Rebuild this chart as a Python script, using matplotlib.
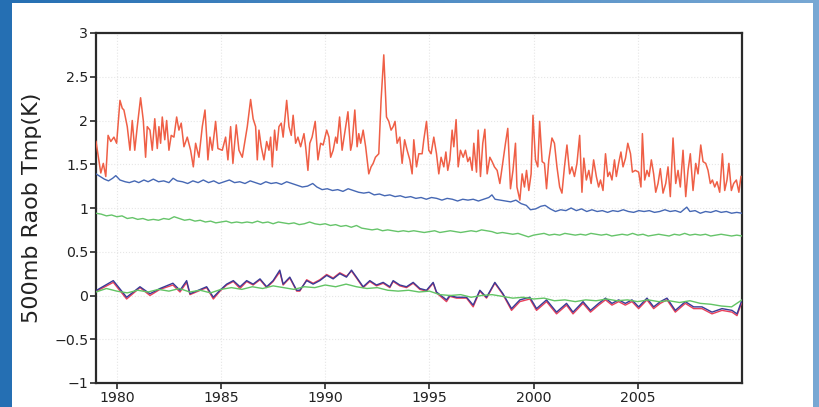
import matplotlib
matplotlib.use("Agg")
import matplotlib.pyplot as plt
import numpy as np
from matplotlib.patches import Rectangle

# ---------------- data ----------------
red_hi_year = [1979.00, 1979.23, 1979.35, 1979.47, 1979.58, 1979.71, 1979.86, 1979.99, 1980.15, 1980.26,
               1980.34, 1980.50, 1980.63, 1980.74, 1980.86, 1980.98, 1981.14, 1981.27, 1981.38, 1981.46,
               1981.59, 1981.70, 1981.82, 1981.94, 1982.02, 1982.10, 1982.18, 1982.30, 1982.39, 1982.50,
               1982.61, 1982.74, 1982.87, 1982.98, 1983.09, 1983.22, 1983.38, 1983.54, 1983.67, 1983.78,
               1983.94, 1984.10, 1984.23, 1984.32, 1984.37, 1984.47, 1984.58, 1984.74, 1984.85, 1985.06,
               1985.22, 1985.33, 1985.46, 1985.57, 1985.73, 1985.86, 1986.02, 1986.13, 1986.26, 1986.42,
               1986.54, 1986.66, 1986.74, 1986.82, 1986.93, 1987.06, 1987.19, 1987.30, 1987.38, 1987.46,
               1987.57, 1987.67, 1987.78, 1987.89, 1987.98, 1988.15, 1988.26, 1988.37, 1988.46, 1988.58,
               1988.69, 1988.82, 1988.98, 1989.06, 1989.17, 1989.26, 1989.37, 1989.52, 1989.65, 1989.78,
               1989.90, 1990.07, 1990.18, 1990.26, 1990.38, 1990.50, 1990.57, 1990.69, 1990.81, 1990.93,
               1991.09, 1991.22, 1991.29, 1991.42, 1991.53, 1991.61, 1991.70, 1991.82, 1991.94, 1992.09,
               1992.20, 1992.30, 1992.41, 1992.57, 1992.68, 1992.81, 1992.94, 1993.05, 1993.16, 1993.26,
               1993.35, 1993.45, 1993.58, 1993.69, 1993.81, 1993.93, 1994.06, 1994.17, 1994.25, 1994.38,
               1994.49, 1994.65, 1994.73, 1994.86, 1994.97, 1995.08, 1995.21, 1995.34, 1995.45, 1995.56,
               1995.69, 1995.79, 1995.88, 1995.98, 1996.09, 1996.17, 1996.28, 1996.38, 1996.49, 1996.62,
               1996.73, 1996.84, 1996.94, 1997.05, 1997.13, 1997.26, 1997.34, 1997.45, 1997.56, 1997.66,
               1997.77, 1997.90, 1998.01, 1998.12, 1998.25, 1998.38, 1998.49, 1998.65, 1998.76, 1998.89,
               1999.01, 1999.13, 1999.20, 1999.34, 1999.45, 1999.56, 1999.66, 1999.77, 1999.88, 1999.97,
               2000.09, 2000.20, 2000.29, 2000.41, 2000.52, 2000.62, 2000.73, 2000.88, 2001.00, 2001.12,
               2001.25, 2001.36, 2001.48, 2001.60, 2001.73, 2001.84, 2001.96, 2002.08, 2002.21, 2002.32,
               2002.41, 2002.53, 2002.65, 2002.76, 2002.88, 2003.01, 2003.12, 2003.21, 2003.33, 2003.45,
               2003.56, 2003.65, 2003.76, 2003.88, 2003.97, 2004.08, 2004.19, 2004.29, 2004.41, 2004.52,
               2004.65, 2004.74, 2004.88, 2005.04, 2005.15, 2005.22, 2005.33, 2005.44, 2005.54, 2005.65,
               2005.76, 2005.86, 2005.97, 2006.08, 2006.21, 2006.34, 2006.45, 2006.56, 2006.69, 2006.82,
               2006.93, 2007.04, 2007.17, 2007.30, 2007.41, 2007.52, 2007.65, 2007.78, 2007.89, 2008.02,
               2008.13, 2008.26, 2008.37, 2008.48, 2008.58, 2008.69, 2008.80, 2008.93, 2009.06, 2009.17,
               2009.28, 2009.37, 2009.49, 2009.60, 2009.73, 2009.85, 2009.95]
red_hi = [1.76, 1.40, 1.51, 1.36, 1.83, 1.76, 1.81, 1.74, 2.23, 2.14,
          2.12, 1.93, 1.66, 2.00, 1.66, 1.93, 2.26, 2.00, 1.58, 1.93,
          1.89, 1.66, 2.02, 1.68, 1.93, 1.74, 2.04, 1.78, 2.00, 1.66,
          1.83, 1.81, 2.04, 1.89, 1.97, 1.70, 1.81, 1.66, 1.47, 1.74,
          1.58, 1.93, 2.12, 1.78, 1.55, 1.81, 1.66, 1.99, 1.68, 1.66,
          1.81, 1.55, 1.93, 1.51, 1.95, 1.66, 1.58, 1.74, 1.93, 2.24,
          2.02, 1.93, 1.55, 1.89, 1.70, 1.55, 1.76, 1.66, 1.81, 1.47,
          1.89, 1.66, 1.93, 1.97, 1.81, 2.23, 1.93, 1.83, 2.06, 1.74,
          1.81, 1.70, 1.85, 1.70, 1.43, 1.74, 1.81, 1.99, 1.55, 1.74,
          1.72, 1.89, 1.81, 1.58, 1.66, 1.81, 1.74, 2.04, 1.66, 1.85,
          2.10, 1.66, 1.74, 2.12, 1.70, 1.85, 1.74, 1.89, 1.70, 1.39,
          1.47, 1.51, 1.58, 1.62, 2.23, 2.75, 2.04, 1.99, 1.89, 1.93,
          1.99, 1.74, 1.81, 1.51, 1.78, 1.66, 1.55, 1.39, 1.78, 1.47,
          1.62, 1.62, 1.78, 1.99, 1.66, 1.62, 1.81, 1.62, 1.39, 1.58,
          1.47, 1.64, 1.43, 1.55, 1.89, 1.70, 2.01, 1.47, 1.66, 1.58,
          1.66, 1.53, 1.58, 1.43, 1.74, 1.41, 1.89, 1.36, 1.74, 1.90,
          1.39, 1.58, 1.53, 1.47, 1.43, 1.28, 1.47, 1.74, 1.91, 1.22,
          1.43, 1.74, 1.24, 1.09, 1.39, 1.24, 1.43, 1.20, 1.39, 2.06,
          1.55, 1.47, 1.99, 1.53, 1.51, 1.22, 1.55, 1.80, 1.74, 1.47,
          1.24, 1.17, 1.47, 1.72, 1.39, 1.47, 1.36, 1.51, 1.83, 1.18,
          1.57, 1.32, 1.43, 1.28, 1.55, 1.36, 1.24, 1.32, 1.20, 1.62,
          1.36, 1.41, 1.32, 1.55, 1.36, 1.51, 1.64, 1.47, 1.57, 1.74,
          1.62, 1.41, 1.43, 1.41, 1.24, 1.85, 1.32, 1.43, 1.36, 1.55,
          1.39, 1.18, 1.28, 1.45, 1.17, 1.28, 1.47, 1.13, 1.80, 1.28,
          1.43, 1.24, 1.66, 1.13, 1.43, 1.62, 1.20, 1.51, 1.39, 1.72,
          1.53, 1.51, 1.43, 1.28, 1.32, 1.24, 1.30, 1.18, 1.62, 1.20,
          1.32, 1.51, 1.20, 1.28, 1.32, 1.18, 1.36]

blue_hi_year = [1979.00, 1979.20, 1979.40, 1979.60, 1979.80, 1979.95, 1980.15, 1980.40, 1980.60, 1980.85,
                1981.05, 1981.30, 1981.50, 1981.75, 1982.00, 1982.25, 1982.50, 1982.70, 1982.90, 1983.15,
                1983.40, 1983.65, 1983.90, 1984.15, 1984.40, 1984.65, 1984.90, 1985.15, 1985.40, 1985.65,
                1985.90, 1986.15, 1986.40, 1986.65, 1986.90, 1987.15, 1987.40, 1987.65, 1987.90, 1988.15,
                1988.40, 1988.65, 1988.90, 1989.15, 1989.40, 1989.60, 1989.85, 1990.10, 1990.35, 1990.60,
                1990.85, 1991.10, 1991.35, 1991.60, 1991.85, 1992.10, 1992.35, 1992.60, 1992.85, 1993.10,
                1993.35, 1993.60, 1993.85, 1994.10, 1994.35, 1994.60, 1994.85, 1995.10, 1995.35, 1995.60,
                1995.85, 1996.10, 1996.35, 1996.60, 1996.85, 1997.10, 1997.35, 1997.60, 1997.85, 1998.00,
                1998.15, 1998.40, 1998.65, 1998.90, 1999.15, 1999.40, 1999.65, 1999.85, 2000.10, 2000.35,
                2000.55, 2000.80, 2001.05, 2001.30, 2001.55, 2001.80, 2002.05, 2002.30, 2002.55, 2002.80,
                2003.05, 2003.30, 2003.55, 2003.80, 2004.05, 2004.30, 2004.55, 2004.80, 2005.05, 2005.30,
                2005.55, 2005.80, 2006.05, 2006.30, 2006.55, 2006.80, 2007.05, 2007.35, 2007.50, 2007.75,
                2008.00, 2008.25, 2008.50, 2008.75, 2009.00, 2009.25, 2009.50, 2009.75, 2010.00]
blue_hi = [1.39, 1.36, 1.33, 1.31, 1.34, 1.37, 1.32, 1.30, 1.29, 1.31,
           1.29, 1.32, 1.30, 1.33, 1.30, 1.31, 1.29, 1.34, 1.31, 1.30,
           1.28, 1.31, 1.29, 1.32, 1.29, 1.31, 1.28, 1.30, 1.32, 1.29,
           1.30, 1.28, 1.31, 1.29, 1.27, 1.30, 1.28, 1.29, 1.27, 1.30,
           1.28, 1.26, 1.24, 1.25, 1.28, 1.24, 1.21, 1.22, 1.20, 1.21,
           1.19, 1.22, 1.20, 1.18, 1.17, 1.18, 1.15, 1.16, 1.14, 1.15,
           1.13, 1.14, 1.12, 1.13, 1.11, 1.12, 1.10, 1.12, 1.11, 1.09,
           1.11, 1.10, 1.08, 1.10, 1.09, 1.10, 1.08, 1.10, 1.12, 1.15,
           1.10, 1.09, 1.08, 1.07, 1.09, 1.05, 1.03, 0.98, 0.99, 1.02,
           1.03, 0.99, 0.96, 0.98, 0.97, 1.00, 0.97, 0.99, 0.96, 0.98,
           0.96, 0.97, 0.95, 0.97, 0.96, 0.98, 0.96, 0.95, 0.97, 0.96,
           0.97, 0.95, 0.96, 0.98, 0.96, 0.97, 0.95, 1.01, 0.96, 0.97,
           0.94, 0.96, 0.95, 0.97, 0.95, 0.96, 0.94, 0.95, 0.94]

green_hi_year = [1979.00 + 0.25 * k for k in range(125)]
green_hi = [0.94, 0.93, 0.91, 0.92, 0.90, 0.91, 0.88, 0.89, 0.87, 0.88,
            0.86, 0.87, 0.86, 0.88, 0.87, 0.90, 0.88, 0.86, 0.87, 0.85,
            0.86, 0.84, 0.85, 0.83, 0.84, 0.85, 0.83, 0.84, 0.83, 0.84,
            0.83, 0.85, 0.83, 0.84, 0.82, 0.84, 0.83, 0.82, 0.83, 0.81,
            0.82, 0.84, 0.82, 0.81, 0.82, 0.80, 0.81, 0.79, 0.80, 0.78,
            0.80, 0.77, 0.76, 0.75, 0.76, 0.74, 0.75, 0.74, 0.73, 0.74,
            0.73, 0.74, 0.73, 0.72, 0.73, 0.74, 0.72, 0.73, 0.74, 0.73,
            0.72, 0.73, 0.74, 0.73, 0.75, 0.74, 0.73, 0.71, 0.72, 0.71,
            0.70, 0.71, 0.69, 0.67, 0.69, 0.70, 0.71, 0.69, 0.70, 0.69,
            0.71, 0.70, 0.69, 0.70, 0.69, 0.71, 0.70, 0.69, 0.70, 0.68,
            0.69, 0.70, 0.69, 0.71, 0.69, 0.70, 0.68, 0.69, 0.70, 0.69,
            0.68, 0.70, 0.69, 0.71, 0.69, 0.70, 0.69, 0.70, 0.68, 0.69,
            0.70, 0.69, 0.68, 0.69, 0.68]

low_year = [1979.03, 1979.83, 1980.47, 1981.11, 1981.59, 1982.07, 1982.69, 1983.03, 1983.35, 1983.51,
            1984.31, 1984.63, 1984.95, 1985.27, 1985.59, 1985.91, 1986.23, 1986.54, 1986.87, 1987.19,
            1987.50, 1987.82, 1987.98, 1988.30, 1988.63, 1988.78, 1989.11, 1989.42, 1989.74, 1990.07,
            1990.38, 1990.70, 1991.02, 1991.26, 1991.50, 1991.82, 1992.14, 1992.46, 1992.78, 1993.10,
            1993.26, 1993.58, 1993.90, 1994.22, 1994.54, 1994.86, 1995.18, 1995.34, 1995.82, 1995.98,
            1996.30, 1996.78, 1997.10, 1997.42, 1997.74, 1998.14, 1998.53, 1998.94, 1999.34, 1999.82,
            2000.14, 2000.62, 2001.10, 2001.58, 2001.89, 2002.37, 2002.73, 2003.12, 2003.45, 2003.76,
            2004.08, 2004.40, 2004.72, 2005.04, 2005.44, 2005.76, 2006.08, 2006.40, 2006.80, 2007.28,
            2007.68, 2008.08, 2008.56, 2009.04, 2009.52, 2009.76, 2009.97]
blue_lo = [0.06, 0.17, -0.02, 0.10, 0.02, 0.08, 0.14, 0.06, 0.17, 0.02,
           0.10, -0.02, 0.06, 0.13, 0.17, 0.10, 0.17, 0.13, 0.19, 0.10,
           0.17, 0.29, 0.13, 0.21, 0.06, 0.06, 0.17, 0.13, 0.17, 0.23,
           0.19, 0.25, 0.21, 0.29, 0.21, 0.10, 0.17, 0.12, 0.15, 0.10,
           0.17, 0.12, 0.10, 0.15, 0.08, 0.06, 0.15, 0.04, -0.05, 0.00,
           -0.02, -0.02, -0.11, 0.06, -0.02, 0.15, 0.02, -0.15, -0.05, -0.02,
           -0.15, -0.05, -0.19, -0.09, -0.19, -0.07, -0.17, -0.09, -0.03, -0.09,
           -0.05, -0.09, -0.05, -0.13, -0.03, -0.13, -0.07, -0.03, -0.17, -0.07,
           -0.13, -0.13, -0.19, -0.15, -0.17, -0.21, -0.07]
red_lo = [0.05, 0.15, -0.04, 0.09, 0.00, 0.07, 0.12, 0.04, 0.15, 0.01,
          0.09, -0.04, 0.05, 0.12, 0.16, 0.08, 0.16, 0.12, 0.18, 0.09,
          0.16, 0.27, 0.12, 0.20, 0.05, 0.05, 0.18, 0.14, 0.18, 0.24,
          0.20, 0.26, 0.22, 0.28, 0.20, 0.09, 0.16, 0.11, 0.14, 0.09,
          0.16, 0.11, 0.09, 0.14, 0.07, 0.05, 0.14, 0.03, -0.07, -0.01,
          -0.03, -0.03, -0.13, 0.05, -0.03, 0.14, 0.01, -0.17, -0.07, -0.04,
          -0.17, -0.07, -0.21, -0.11, -0.21, -0.09, -0.19, -0.11, -0.05, -0.11,
          -0.07, -0.11, -0.07, -0.15, -0.05, -0.15, -0.09, -0.05, -0.19, -0.09,
          -0.15, -0.15, -0.21, -0.17, -0.19, -0.23, -0.09]

green_lo_year = [1979.00 + 0.5 * k for k in range(63)]
green_lo = [0.04, 0.08, 0.05, 0.03, 0.06, 0.04, 0.07, 0.05, 0.08, 0.04,
            0.06, 0.03, 0.07, 0.09, 0.07, 0.10, 0.08, 0.11, 0.09, 0.07,
            0.10, 0.09, 0.12, 0.10, 0.13, 0.10, 0.08, 0.09, 0.06, 0.05,
            0.06, 0.04, 0.05, 0.01, 0.00, 0.01, -0.02, 0.00, 0.01, -0.01,
            -0.03, -0.02, -0.04, -0.03, -0.06, -0.05, -0.07, -0.05, -0.06, -0.04,
            -0.06, -0.05, -0.07, -0.05, -0.07, -0.06, -0.08, -0.06, -0.09, -0.10,
            -0.12, -0.13, -0.05]

x_ticks = [1980, 1985, 1990, 1995, 2000, 2005]
y_ticks = [-1, -0.5, 0, 0.5, 1, 1.5, 2, 2.5, 3]
y_tick_labels = ["\u22121", "\u22120.5", "0", "0.5", "1", "1.5", "2", "2.5", "3"]
y_label = "500mb Raob Tmp(K)"

# ---------------- figure ----------------
W, H = 819, 407
fig = plt.figure(figsize=(W / 100, H / 100), dpi=100)

# blue slide background with white panel
bg = fig.add_axes([0, 0, 1, 1])
grad = np.linspace(0, 1, 256)
c0 = np.array([0x25, 0x6f, 0xb3]) / 255.0
c1 = np.array([0x78, 0xa8, 0xd4]) / 255.0
img = c0[None, :] * (1 - grad[:, None]) + c1[None, :] * grad[:, None]
bg.imshow(img[None, :, :], aspect="auto", extent=[0, 1, 0, 1])
bg.add_patch(Rectangle((12 / W, 0), (813 - 12) / W, 1 - 3 / H, facecolor="white", edgecolor="none"))
bg.set_xlim(0, 1)
bg.set_ylim(0, 1)
bg.axis("off")

ax = fig.add_axes([96 / W, 1 - 383 / H, (742 - 96) / W, (383 - 33) / H])
ax.set_facecolor("white")

ax.plot(low_year, red_lo, color="#e8405a", lw=1.0, zorder=3)
ax.plot(low_year, blue_lo, color="#3a3a96", lw=1.0, zorder=4)
ax.plot(green_lo_year, green_lo, color="#62c464", lw=1.0, zorder=5)
ax.plot(blue_hi_year, blue_hi, color="#4668b4", lw=1.0, zorder=4)
ax.plot(green_hi_year, green_hi, color="#66c46a", lw=1.0, zorder=4)
ax.plot(red_hi_year, red_hi, color="#ef5f46", lw=1.1, zorder=6)

ax.set_xlim(1979, 2010)
ax.set_ylim(-1, 3)
ax.set_xticks(x_ticks)
ax.set_xticklabels([str(t) for t in x_ticks])
ax.set_yticks(y_ticks)
ax.set_yticklabels(y_tick_labels)
ax.grid(True, color="#e6e6e6", linestyle=":", linewidth=0.8)
ax.set_axisbelow(True)

for s in ax.spines.values():
    s.set_linewidth(1.6)
    s.set_color("#2a2a2a")

ax.tick_params(axis="both", direction="out", length=4, width=1.2, color="#2a2a2a",
               labelsize=10.2, labelcolor="#222222", pad=1.5)
for lab in ax.get_xticklabels() + ax.get_yticklabels():
    lab.set_family("DejaVu Sans")

ax.set_ylabel(y_label, fontsize=16, color="#222222", family="DejaVu Sans", labelpad=9)

fig.savefig("out.png", dpi=100)
